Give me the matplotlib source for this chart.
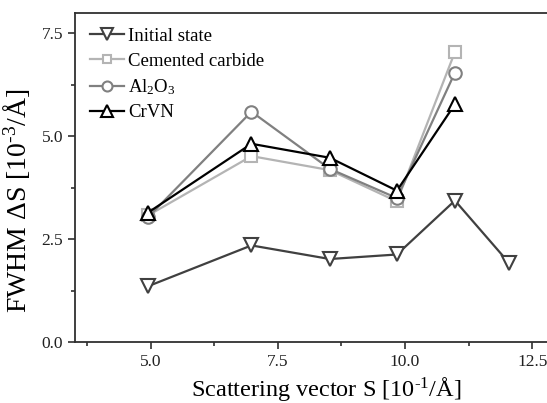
import numpy as np
import matplotlib
matplotlib.use('Agg')
import matplotlib.pyplot as plt
from matplotlib.ticker import MultipleLocator, FormatStrFormatter

plt.rcParams['font.family'] = ['Liberation Serif', 'DejaVu Serif']
plt.rcParams['mathtext.fontset'] = 'custom'
plt.rcParams['mathtext.rm'] = 'Liberation Serif'
plt.rcParams['mathtext.it'] = 'Liberation Serif:italic'

# peak positions (scattering vector, 10^-1/A)
s_init = [4.95, 6.98, 8.52, 9.84, 10.98, 12.04]
s_coat = [4.95, 6.98, 8.52, 9.84, 10.98]

# FWHM values (10^-3/A)
fwhm_init = [1.36, 2.35, 2.02, 2.13, 3.44, 1.93]
fwhm_carbide = [3.08, 4.52, 4.18, 3.42, 7.05]
fwhm_al2o3 = [3.04, 5.60, 4.21, 3.50, 6.55]
fwhm_crvn = [3.15, 4.82, 4.48, 3.68, 5.78]

fig = plt.figure(figsize=(5.47, 4.03), dpi=100)
ax = fig.add_axes([0.137, 0.151, 0.863, 0.817])

ax.plot(s_init, fwhm_init, color='#404040', lw=1.6, marker='v', ms=10,
        mfc='white', mew=1.5, label='Initial state')
ax.plot(s_coat, fwhm_carbide, color='#b4b4b4', lw=1.6, marker='s', ms=8,
        mfc='white', mew=1.5, label='Cemented carbide')
ax.plot(s_coat, fwhm_al2o3, color='#808080', lw=1.6, marker='o', ms=9,
        mfc='white', mew=1.5, label=r'Al$_\mathregular{2}$O$_\mathregular{3}$')
ax.plot(s_coat, fwhm_crvn, color='black', lw=1.6, marker='^', ms=10,
        mfc='white', mew=1.5, label='CrVN')

ax.set_xlim(3.51, 12.79)
ax.set_ylim(0, 8.0)
ax.xaxis.set_major_locator(MultipleLocator(2.5))
ax.xaxis.set_minor_locator(MultipleLocator(1.25))
ax.yaxis.set_major_locator(MultipleLocator(2.5))
ax.yaxis.set_minor_locator(MultipleLocator(1.25))
ax.xaxis.set_major_formatter(FormatStrFormatter('%.1f'))
ax.yaxis.set_major_formatter(FormatStrFormatter('%.1f'))

ax.spines['right'].set_visible(False)
for side in ['left', 'bottom', 'top']:
  ax.spines[side].set_linewidth(1.3)
  ax.spines[side].set_color('#303030')
ax.tick_params(which='major', direction='out', length=5, width=1.2, labelsize=12.5, colors='#303030')
ax.tick_params(which='minor', direction='out', length=3, width=1.2, colors='#303030')
ax.tick_params(labelcolor='#202020')

ax.set_xlabel('Scattering vector S [10$^{\u2010\\mathregular{1}}$/Å]', fontsize=17.5)
ax.set_ylabel('FWHM ΔS [10$^{\u2010\\mathregular{3}}$/Å]', fontsize=20)
ax.xaxis.set_label_coords(0.532, -0.1)
ax.yaxis.set_label_coords(-0.092, 0.43)

ax.legend(loc='upper left', frameon=False, fontsize=13.5, handlelength=1.8,
          handletextpad=0.25, labelspacing=0.4, borderaxespad=0.4,
          markerscale=0.8, bbox_to_anchor=(0.0, 1.0))

fig.savefig('out.png', dpi=100)
